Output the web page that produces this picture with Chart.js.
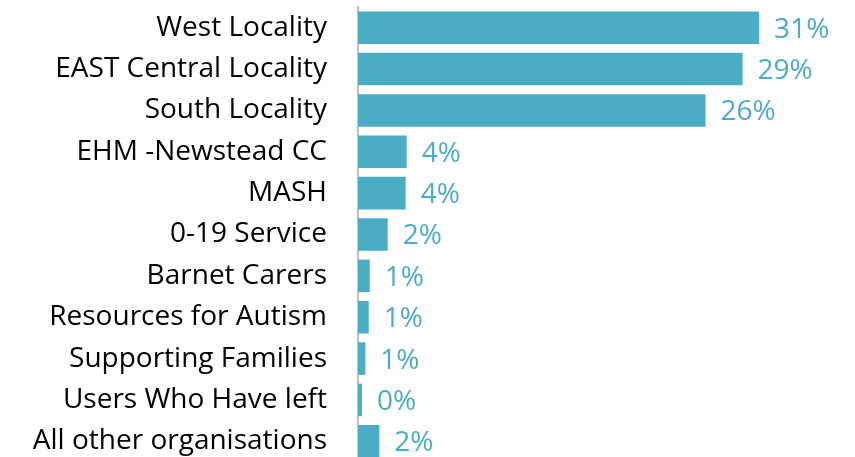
<!DOCTYPE html>
<html>
<head>
<meta charset="utf-8">
<script src="https://cdn.jsdelivr.net/npm/chart.js@4/dist/chart.umd.min.js"></script>
<style>
html,body{margin:0;padding:0;background:#fff;overflow:hidden;}
#wrap{position:relative;width:855px;height:462px;}
</style>
</head>
<body>
<div id="wrap"><canvas id="c"></canvas></div>
<script>
const categories = ["West Locality","EAST Central Locality","South Locality","EHM -Newstead CC","MASH","0-19 Service","Barnet Carers","Resources for Autism","Supporting Families","Users Who Have left","All other organisations"];
const shares = [31.06, 29.78, 26.91, 3.77, 3.69, 2.30, 0.91, 0.83, 0.57, 0.31, 1.65];
const shareLabels = ["31%","29%","26%","4%","4%","2%","1%","1%","1%","0%","2%"];

const barColor = "#4BACC6";

const valueLabelPlugin = {
  id: "valueLabels",
  afterDatasetsDraw(chart) {
    const ctx = chart.ctx;
    const meta = chart.getDatasetMeta(0);
    ctx.save();
    ctx.font = "28px 'Open Sans'";
    ctx.fillStyle = barColor;
    ctx.textAlign = "left";
    ctx.textBaseline = "middle";
    meta.data.forEach((bar, i) => {
      ctx.fillText(shareLabels[i], bar.x + 15, bar.y + 2);
    });
    ctx.restore();
  }
};

new Chart(document.getElementById("c"), {
  type: "bar",
  data: {
    labels: categories,
    datasets: [{
      data: shares,
      backgroundColor: barColor,
      borderWidth: 0,
      categoryPercentage: 1,
      barPercentage: 0.787
    }]
  },
  options: {
    indexAxis: "y",
    responsive: true,
    maintainAspectRatio: false,
    animation: false,
    layout: { padding: { top: 7, bottom: 0, left: 0, right: 45 } },
    plugins: { legend: { display: false }, tooltip: { enabled: false } },
    scales: {
      x: { display: false, min: 0, max: 35 },
      y: {
        grid: { display: false },
        border: { display: true, color: "#bfbfbf", width: 2 },
        ticks: { color: "#000", font: { family: "'Open Sans'", size: 28 }, padding: 23, autoSkip: false },
        afterFit(scale) { scale.width = 358; scale.paddingTop = 0; scale.paddingBottom = 0; }
      }
    }
  },
  plugins: [valueLabelPlugin]
});
</script>
</body>
</html>
